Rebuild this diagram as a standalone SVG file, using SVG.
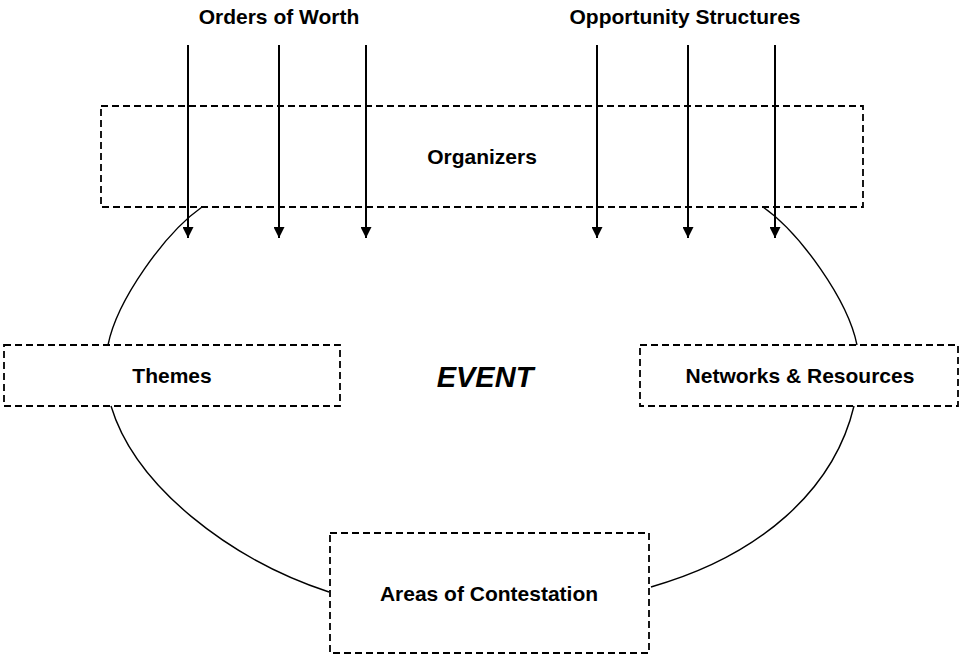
<svg xmlns="http://www.w3.org/2000/svg" width="961" height="655" viewBox="0 0 961 655">
  <style>
    .box { fill: none; stroke: #000; stroke-width: 1.8; stroke-dasharray: 7 4; }
    .lbl { font-family: "Liberation Sans", Arial, sans-serif; font-weight: bold; font-size: 21px; fill: #000; text-anchor: middle; }
    .arc { fill: none; stroke: #000; stroke-width: 1.4; }
    .arrow { stroke: #000; stroke-width: 2; marker-end: url(#head); }
  </style>
  <defs>
    <marker id="head" markerUnits="userSpaceOnUse" markerWidth="11" markerHeight="11" viewBox="0 0 11 11" refX="11" refY="5.5" orient="auto">
      <path d="M0,0 L11,5.5 L0,11 z" fill="#000"/>
    </marker>
  </defs>
  <rect width="961" height="655" fill="#fff"/>

  <!-- source headings -->
  <g id="orders-of-worth">
    <text class="lbl" x="279" y="24">Orders of Worth</text>
  </g>
  <g id="opportunity-structures">
    <text class="lbl" x="685" y="24">Opportunity Structures</text>
  </g>

  <!-- nodes -->
  <g id="organizers">
    <rect class="box" x="101" y="106" width="762" height="101"/>
    <text class="lbl" x="482" y="164">Organizers</text>
  </g>
  <g id="themes">
    <rect class="box" x="4" y="345" width="336" height="61"/>
    <text class="lbl" x="172" y="383">Themes</text>
  </g>
  <g id="networks-resources">
    <rect class="box" x="640" y="345" width="318" height="61"/>
    <text class="lbl" x="800" y="383">Networks &amp; Resources</text>
  </g>
  <g id="areas-of-contestation">
    <rect class="box" x="330" y="533" width="319" height="120"/>
    <text class="lbl" x="489" y="601">Areas of Contestation</text>
  </g>
  <g id="event">
    <text x="485" y="387" font-family="Liberation Sans, Arial, sans-serif" font-weight="bold" font-style="italic" font-size="29" text-anchor="middle">EVENT</text>
  </g>

  <!-- connectors -->
  <g id="connectors">
    <path class="arc" d="M202,207 C165,233 117,300 108,345"/>
    <path class="arc" d="M763,207 C800,233 848,300 857,345"/>
    <path class="arc" d="M111,406 C135,486 229,559 329,592"/>
    <path class="arc" d="M854,406 C834,490 760,556 651,587"/>

    <line class="arrow" x1="188" y1="45" x2="188" y2="238"/>
    <line class="arrow" x1="279" y1="45" x2="279" y2="238"/>
    <line class="arrow" x1="366" y1="45" x2="366" y2="238"/>
    <line class="arrow" x1="597" y1="45" x2="597" y2="238"/>
    <line class="arrow" x1="688" y1="45" x2="688" y2="238"/>
    <line class="arrow" x1="775" y1="45" x2="775" y2="238"/>
  </g>
</svg>
